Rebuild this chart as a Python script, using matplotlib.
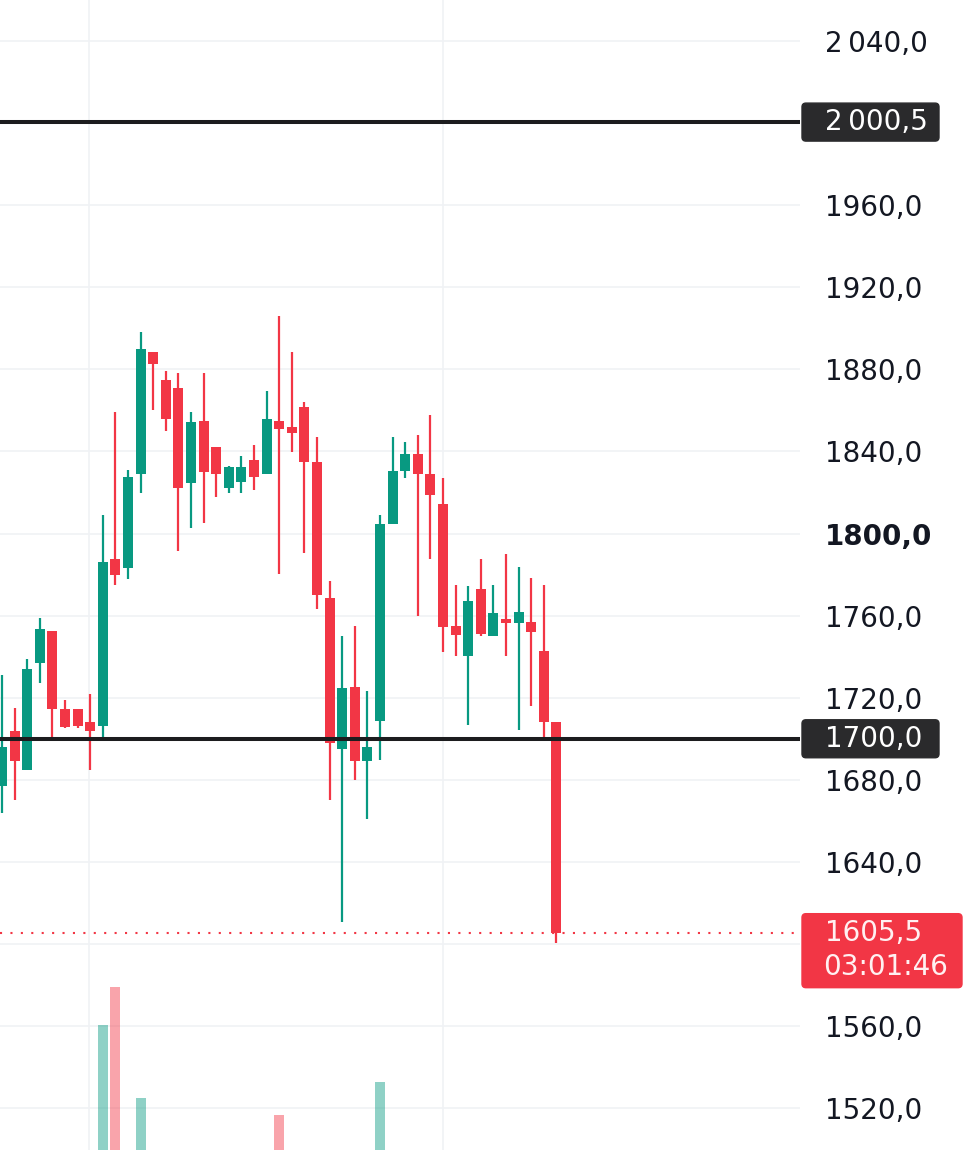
import matplotlib.pyplot as plt
from matplotlib.patches import FancyBboxPatch

# candle data (price, one candle per slot)
opens = [1677, 1704, 1685, 1737, 1752.5, 1714.5, 1714.5, 1708, 1706, 1787.5,
         1783, 1829, 1888.5, 1875, 1871, 1824.5, 1855, 1842, 1822, 1825,
         1836, 1829, 1855, 1852, 1861.5, 1835, 1768.5, 1695, 1725, 1689,
         1708.5, 1804.5, 1830.5, 1839, 1829, 1814.5, 1755, 1740.5, 1773, 1750,
         1758.5, 1756.5, 1757, 1743, 1708]
highs = [1731, 1715, 1739, 1759, 1752.5, 1719, 1714.5, 1722, 1809, 1859,
         1831, 1898, 1888.5, 1879, 1878, 1859, 1878, 1842, 1833, 1838,
         1843, 1869.5, 1906, 1888.5, 1864, 1847, 1777, 1750, 1755, 1723.5,
         1809, 1847, 1844.5, 1848, 1858, 1827, 1775, 1774.5, 1787.5, 1775,
         1790, 1783.5, 1778.5, 1775, 1708]
lows = [1664, 1670, 1685, 1727, 1700, 1705, 1705, 1685, 1701, 1775,
        1778, 1820, 1860, 1850, 1791.5, 1802.5, 1805, 1818, 1820, 1820,
        1821, 1829, 1780.5, 1839.5, 1790.5, 1763, 1670, 1610.5, 1680, 1661,
        1689.5, 1804.5, 1827, 1760, 1787.5, 1742.5, 1740.5, 1706.5, 1750, 1750,
        1740.5, 1704.5, 1716, 1701, 1600.5]
closes = [1696, 1689, 1734, 1753.5, 1714.5, 1705.5, 1706, 1704, 1786, 1780,
          1827.5, 1890, 1882.5, 1856, 1822, 1854.5, 1830, 1829, 1832.5, 1832.5,
          1827.5, 1856, 1851, 1849, 1835, 1770, 1698, 1724.5, 1689, 1696,
          1804.5, 1830.5, 1839, 1829, 1819, 1754.5, 1750.5, 1767, 1751, 1761.5,
          1756.5, 1762, 1752, 1708, 1605.5]
volumes = [22, 18, 30, 15, 25, 12, 10, 20, 165, 203,
           35, 92, 28, 20, 30, 22, 25, 14, 10, 9,
           12, 24, 75, 18, 26, 33, 38, 36, 30, 22,
           108, 28, 12, 20, 18, 34, 15, 22, 16, 12,
           14, 20, 12, 26, 38]

price_levels = [1520, 1560, 1600, 1640, 1680, 1720, 1760, 1800, 1840, 1880,
                1920, 1960, 2000, 2040]
tick_levels = [1520, 1560, 1640, 1680, 1720, 1760, 1800, 1840, 1880, 1920, 1960, 2040]
tick_labels = ['1520,0', '1560,0', '1640,0', '1680,0', '1720,0', '1760,0', '1800,0',
               '1840,0', '1880,0', '1920,0', '1960,0', '2\u2009040,0']
time_lines = [6.9, 35.0]

hlines = [2000.5, 1700.0]
hline_labels = ['2\u2009000,5', '1700,0']
last_price = 1605.5
last_label = '1605,5'
countdown = '03:01:46'

GREEN = '#089981'
RED = '#f23645'
plt.rcParams['font.family'] = ['DejaVu Sans']

W, H = 974, 1150
fig = plt.figure(figsize=(W / 100, H / 100), dpi=100)
ax = fig.add_axes([0, 0, 800 / W, 1])
ax.set_xlim(-0.16, 63.33)
ax.set_ylim(1499.6, 2060)

# volume overlay (twinx resets the tick side of ax, so make it first)
ax2 = ax.twinx()
ax2.set_ylim(40, 1190)

for lvl in price_levels:
    ax.axhline(lvl, color='#f0f2f5', lw=1.2, zorder=0)
for t in time_lines:
    ax.axvline(t, color='#f0f2f5', lw=1.2, zorder=0)

x = list(range(len(opens)))
cols = [GREEN if c >= o else RED for o, c in zip(opens, closes)]
ax.vlines(x, lows, highs, colors=cols, lw=1.6, zorder=2)
ax.bar(x, [max(abs(c - o), 0.6) for o, c in zip(opens, closes)],
       bottom=[min(o, c) for o, c in zip(opens, closes)],
       width=0.8, color=cols, zorder=3)

for lvl in hlines:
    ax.axhline(lvl, color='#1c1c1e', lw=2.9, zorder=4)
ax.axhline(last_price, color=RED, lw=1.5, linestyle=(0, (1, 4)), zorder=4)

ax.yaxis.set_ticks_position('right')
ax.yaxis.set_label_position('right')
ax.set_yticks(tick_levels)
ax.set_yticklabels(tick_labels)
ax.tick_params(axis='y', which='both', left=False, right=False,
               labelleft=False, labelright=True,
               length=0, pad=18, labelsize=20, labelcolor='#131722')
ax.set_xticks([])
for lbl in ax.get_yticklabels():
    if lbl.get_text() == '1800,0':
        lbl.set_fontweight('bold')
for s in ax.spines.values():
    s.set_visible(False)

ax2.bar(x, volumes, width=0.8, color=cols, alpha=0.45, zorder=1)
ax2.set_axis_off()


def fig_y(price):
    disp = ax.transData.transform((0, price))
    return fig.transFigure.inverted().transform(disp)[1]


bx = 802 / W
for lvl, txt in zip(hlines, hline_labels):
    cy = fig_y(lvl)
    fig.patches.append(FancyBboxPatch((bx, cy - 19 / H), 137 / W, 38 / H,
                                      boxstyle='round,pad=0,rounding_size=0.004',
                                      mutation_aspect=W / H,
                                      transform=fig.transFigure, color='#2a2a2c'))
    fig.text(825 / W, cy, txt, color='white', fontsize=20, va='center', ha='left')

cy = fig_y(last_price)
fig.patches.append(FancyBboxPatch((bx, cy - 55 / H), 160 / W, 74 / H,
                                  boxstyle='round,pad=0,rounding_size=0.004',
                                  mutation_aspect=W / H,
                                  transform=fig.transFigure, color=RED))
fig.text(825 / W, cy, last_label, color='#fff0f1', fontsize=20, va='center', ha='left')
fig.text(823 / W, cy - 34 / H, countdown, color='#fff0f1', fontsize=20, va='center', ha='left')

fig.savefig('out.png', dpi=100)
